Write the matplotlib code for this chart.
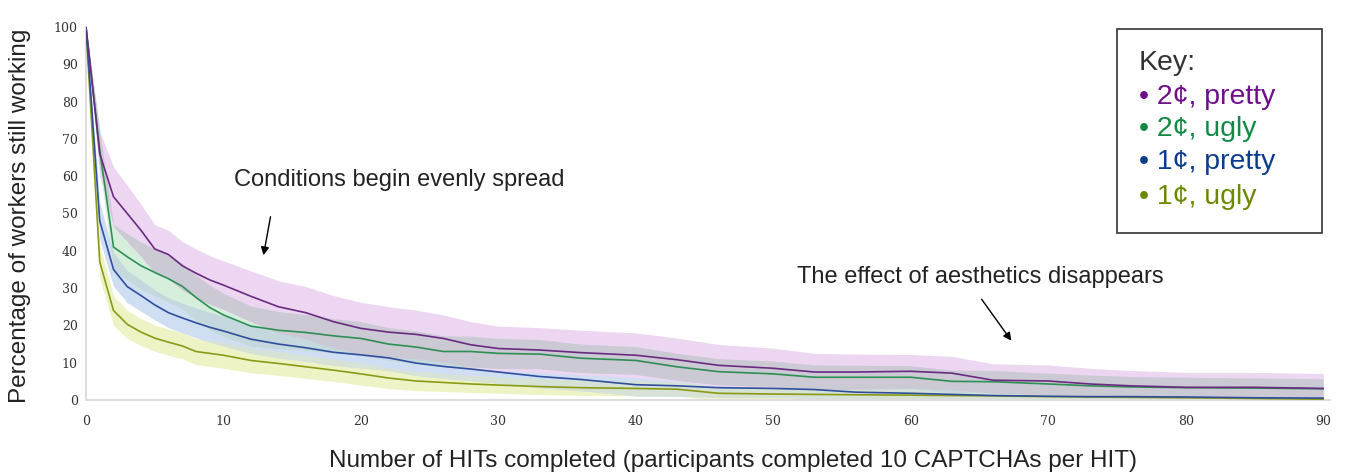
import matplotlib
matplotlib.use("Agg")
import matplotlib.pyplot as plt
from matplotlib.patches import Rectangle
import numpy as np

# ---- data -------------------------------------------------------------
hits = [0, 1, 2, 3, 4, 5, 6, 7, 8, 9, 10, 12, 14, 16, 18, 20, 22, 24, 26, 28, 30,
        33, 36, 40, 43, 46, 50, 53, 56, 60, 63, 66, 70, 73, 76, 80, 85, 90]

pretty_2c = [100, 66, 54.5, 50, 45.5, 40.5, 39, 36, 34, 32.2, 30.8, 27.8, 25, 23.4, 21, 19.2,
             18.2, 17.6, 16.5, 14.8, 13.8, 13.4, 12.7, 12, 10.8, 9.3, 8.5, 7.5, 7.5, 7.7,
             7.2, 5.3, 5.1, 4.3, 3.8, 3.4, 3.4, 3.1]
ugly_2c = [100, 67, 41, 38.4, 36, 34.2, 32.5, 30.5, 27.5, 24.8, 22.8, 19.8, 18.7, 18.1, 17.2,
           16.5, 15, 14.2, 13, 13, 12.5, 12.3, 11.2, 10.6, 8.9, 7.6, 7, 6.1, 6.1, 6.1, 5,
           4.9, 4.3, 3.8, 3.5, 3.3, 3.2, 3.0]
pretty_1c = [100, 48, 35, 30.4, 28, 25.5, 23.4, 22, 20.7, 19.5, 18.5, 16.3, 15, 14, 12.8,
             12.1, 11.3, 9.9, 9, 8.3, 7.5, 6.3, 5.5, 4.1, 3.8, 3.3, 3.1, 2.8, 2.1, 1.8, 1.5,
             1.2, 1.0, 0.9, 0.9, 0.8, 0.6, 0.5]
ugly_1c = [100, 37, 24, 20.3, 18.2, 16.6, 15.5, 14.5, 13, 12.5, 12, 10.6, 9.8, 8.9, 8, 7,
           5.9, 5.1, 4.7, 4.3, 4.0, 3.6, 3.3, 3.1, 2.9, 1.8, 1.6, 1.5, 1.4, 1.3, 1.2, 1.1,
           0.9, 0.8, 0.7, 0.6, 0.4, 0.2]

# half-widths of the shaded confidence bands
pretty_2c_err = [0, 6, 8, 7.5, 7, 6.5, 6.5, 6.5, 6.5, 6.5, 6.5, 6.8, 7, 7, 7, 7, 6.8, 6.5, 6.3,
                 6.2, 6, 6, 6, 6, 5.8, 5.6, 5.4, 5, 4.8, 4.5, 4.5, 4.4, 4.3, 4.2, 4.1, 4, 4, 4]
ugly_2c_err = [0, 5, 6, 6.2, 6.3, 6.3, 6.3, 6.2, 6, 6, 5.8, 5.4, 5, 4.8, 4.6, 4.5, 4.4, 4.3,
               4.2, 4.1, 4, 3.9, 3.8, 3.7, 3.6, 3.5, 3.4, 3.3, 3.2, 3.1, 3.0, 3.0, 2.9, 2.9,
               2.8, 2.8, 2.7, 2.7]
pretty_1c_err = [0, 5, 4.5, 4.3, 4.2, 4, 4, 4, 4, 4, 4, 3.8, 3.7, 3.6, 3.5, 3.5, 3.4, 3.3,
                 3.2, 3.1, 3, 3, 3, 3, 2.8, 2.6, 2.4, 2.3, 2.1, 2, 1.9, 1.8, 1.7, 1.7, 1.6,
                 1.6, 1.5, 1.5]
ugly_1c_err = [0, 4.5, 4, 3.8, 3.6, 3.5, 3.5, 3.5, 3.5, 3.5, 3.5, 3.3, 3.2, 3.1, 3, 3, 2.8,
               2.6, 2.4, 2.3, 2.2, 2.1, 2.1, 2, 1.9, 1.8, 1.7, 1.6, 1.6, 1.5, 1.4, 1.3, 1.2,
               1.2, 1.1, 1.1, 1, 1]

x_ticks = [0, 10, 20, 30, 40, 50, 60, 70, 80, 90]
y_ticks = [0, 10, 20, 30, 40, 50, 60, 70, 80, 90, 100]

key_labels = ["• 2¢, pretty", "• 2¢, ugly", "• 1¢, pretty", "• 1¢, ugly"]

# ---- figure -----------------------------------------------------------
fig = plt.figure(figsize=(13.49, 4.75), dpi=100)
ax = fig.add_axes([86 / 1349, 1 - 400 / 475, (1330 - 86) / 1349, (400 - 27) / 475])

xs = np.array(hits)


def band(vals, err):
    v = np.array(vals, dtype=float)
    e = np.array(err, dtype=float)
    return np.clip(v - e, 0, None), v + e


p2_lo, p2_hi = band(pretty_2c, pretty_2c_err)
u2_lo, u2_hi = band(ugly_2c, ugly_2c_err)
p1_lo, p1_hi = band(pretty_1c, pretty_1c_err)
u1_lo, u1_hi = band(ugly_1c, ugly_1c_err)

# single bands (on white)
ax.fill_between(xs, u1_lo, u1_hi, color="#eef3c6", lw=0, zorder=1)
ax.fill_between(xs, p1_lo, p1_hi, color="#d0def3", lw=0, zorder=1.1)
ax.fill_between(xs, u2_lo, u2_hi, color="#d6efdd", lw=0, zorder=1.2)
ax.fill_between(xs, p2_lo, p2_hi, color="#ecd6f1", lw=0, zorder=1.3)


def overlap(lo_a, hi_a, lo_b, hi_b, color, z):
    lo = np.maximum(lo_a, lo_b)
    hi = np.minimum(hi_a, hi_b)
    ax.fill_between(xs, lo, hi, where=hi > lo, interpolate=True, color=color, lw=0, zorder=z)


# overlapping bands look greyer (multiplied tints)
overlap(u1_lo, u1_hi, p1_lo, p1_hi, "#d6e2d6", 1.4)
overlap(p1_lo, p1_hi, u2_lo, u2_hi, "#c5d8dd", 1.5)
overlap(u2_lo, u2_hi, p2_lo, p2_hi, "#cbc9d3", 1.6)

lines = [(ugly_1c, "#8a9a14"), (pretty_1c, "#2f4f9e"), (ugly_2c, "#2e8f55"), (pretty_2c, "#6b2a82")]
for vals, lc in lines:
    ax.plot(xs, vals, color=lc, lw=1.2, zorder=3)

ax.set_xlim(0, 90.5)
ax.set_ylim(0, 100)
ax.set_xticks(x_ticks)
ax.set_yticks(y_ticks)
for lab in ax.get_xticklabels() + ax.get_yticklabels():
    lab.set_family("DejaVu Serif")
    lab.set_fontsize(9)
    lab.set_color("#333333")
ax.tick_params(length=0)
ax.tick_params(axis="x", pad=11)
ax.tick_params(axis="y", pad=6)
for s in ["top", "right"]:
    ax.spines[s].set_visible(False)
for s in ["left", "bottom"]:
    ax.spines[s].set_color("#dddddd")
    ax.spines[s].set_linewidth(1.5)

fig.text(20 / 1349, 1 - 216 / 475, "Percentage of workers still working", fontsize=17.5,
         family="Liberation Sans", color="#222222", rotation=90, ha="center", va="center")
fig.text(733 / 1349, 1 - 461 / 475, "Number of HITs completed (participants completed 10 CAPTCHAs per HIT)",
         fontsize=17.5, family="Liberation Sans", color="#222222", ha="center", va="center")

# annotations
fig.text(234 / 1349, 1 - 180 / 475, "Conditions begin evenly spread", fontsize=17,
         family="Liberation Sans", color="#222222", ha="left", va="center")
fig.text(797 / 1349, 1 - 277 / 475, "The effect of aesthetics disappears", fontsize=17,
         family="Liberation Sans", color="#222222", ha="left", va="center")
ax.annotate("", xy=(263 / 1349, 1 - 258 / 475), xytext=(271 / 1349, 1 - 214 / 475),
            xycoords="figure fraction", textcoords="figure fraction",
            arrowprops=dict(arrowstyle="-|>", color="black", lw=1.0, mutation_scale=12))
ax.annotate("", xy=(1013 / 1349, 1 - 343 / 475), xytext=(980 / 1349, 1 - 297 / 475),
            xycoords="figure fraction", textcoords="figure fraction",
            arrowprops=dict(arrowstyle="-|>", color="black", lw=1.0, mutation_scale=12))

# key box
fig.patches.append(Rectangle((1117 / 1349, 1 - 233 / 475), (1322 - 1117) / 1349, (233 - 29) / 475,
                             transform=fig.transFigure, fill=False, edgecolor="#333333", lw=1.2))
fig.text(1139 / 1349, 1 - 63 / 475, "Key:", fontsize=20.5, family="Liberation Sans",
         color="#333333", ha="left", va="center")
key_colors = ["#6f108a", "#128a45", "#0c3d8c", "#6b8a00"]
key_y = [97, 129, 162, 197]
for lab, c, yy in zip(key_labels, key_colors, key_y):
    fig.text(1139 / 1349, 1 - yy / 475, lab, fontsize=20.5, family="Liberation Sans",
             color=c, ha="left", va="center")

fig.savefig("out.png", dpi=100)
